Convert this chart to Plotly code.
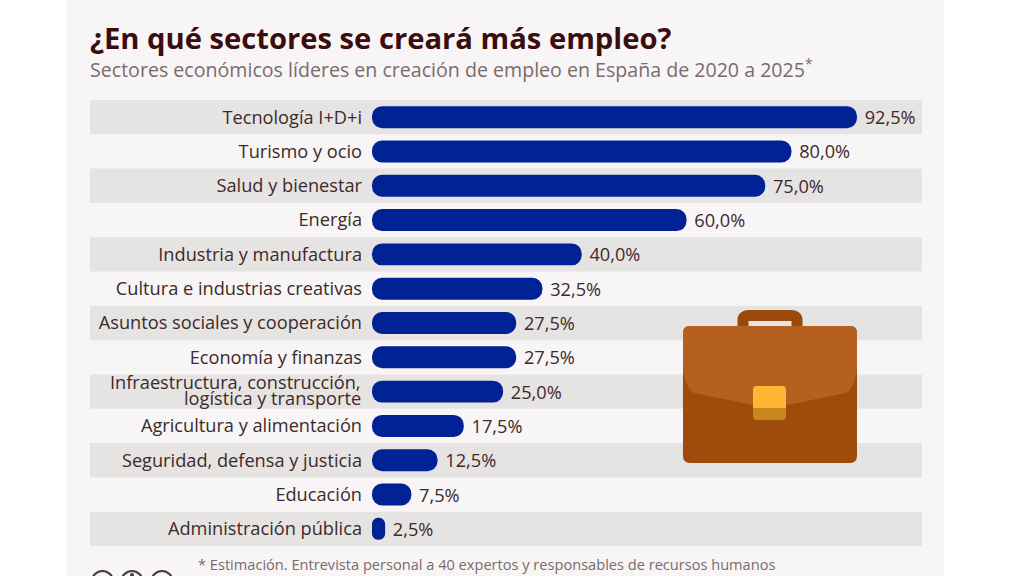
import plotly.graph_objects as go

W, H = 1024, 576

sectores = [
    "Tecnología I+D+i", "Turismo y ocio", "Salud y bienestar", "Energía",
    "Industria y manufactura", "Cultura e industrias creativas",
    "Asuntos sociales y cooperación", "Economía y finanzas",
    "Infraestructura, construcción, logística y transporte",
    "Agricultura y alimentación", "Seguridad, defensa y justicia",
    "Educación", "Administración pública",
]
valores = [92.5, 80.0, 75.0, 60.0, 40.0, 32.5, 27.5, 27.5, 25.0, 17.5, 12.5, 7.5, 2.5]
etiquetas = ["\u00a0" + f"{v:.1f}%".replace(".", ",") for v in valores]

# esta categoria va en dos lineas muy juntas, el eje no permite ese interlineado
SECTOR_DOBLE = sectores[8]
LINEAS_DOBLE = ["Infraestructura, construcción,", "logística y transporte"]

TITULO = "¿En qué sectores se creará más empleo?"
SUBTITULO = "Sectores económicos líderes en creación de empleo en España de 2020 a 2025<sup>*</sup>"
NOTA = "* Estimación. Entrevista personal a 40 expertos y responsables de recursos humanos"

FUENTE = "Open Sans"
TEXTO = "#3d2a2a"


def px(x):
    return x / W


def py(y):
    return 1 - y / H


def ruta(puntos):
    # puntos en pixeles de la imagen, pasados a coordenadas de papel
    partes = []
    for p in puntos:
        if isinstance(p, str):
            partes.append(p)
        else:
            partes.append(f"{px(p[0]):.5f},{py(p[1]):.5f}")
    return " ".join(partes)


def caja(x0, y0, x1, y1, r):
    return ruta([
        "M", (x0 + r, y0), "L", (x1 - r, y0), "Q", (x1, y0), (x1, y0 + r),
        "L", (x1, y1 - r), "Q", (x1, y1), (x1 - r, y1),
        "L", (x0 + r, y1), "Q", (x0, y1), (x0, y1 - r),
        "L", (x0, y0 + r), "Q", (x0, y0), (x0 + r, y0), "Z",
    ])


shapes = [dict(type="rect", xref="paper", yref="paper", x0=px(66), x1=px(944),
               y0=0, y1=1, fillcolor="#f7f5f6", line_width=0, layer="below")]

# franjas alternas detras de las barras
for i in range(0, len(sectores), 2):
    shapes.append(dict(type="rect", xref="paper", yref="y", x0=px(90), x1=px(922),
                       y0=i - 0.5, y1=i + 0.5, fillcolor="#e6e3e3",
                       line_width=0, layer="below"))

# maletin
asa = ruta(["M", (743, 327), "L", (743, 320), "Q", (743, 315.5), (749, 315.5),
            "L", (791, 315.5), "Q", (797, 315.5), (797, 320), "L", (797, 327)])
solapa = ruta(["M", (690, 326), "L", (850, 326), "Q", (857, 326), (857, 333),
               "L", (857, 367), "Q", (855, 388), (846, 393), "L", (772, 408),
               "L", (768, 408), "L", (694, 393), "Q", (685, 388), (683, 367),
               "L", (683, 333), "Q", (683, 326), (690, 326), "Z"])
for path, fill, line in [
    (asa, "rgba(0,0,0,0)", dict(color="#9c4a0c", width=11)),
    (caja(683, 326, 857, 463, 7), "#9e4b0b", dict(width=0)),
    (solapa, "#b5601e", dict(width=0)),
    (caja(753, 386, 786, 420, 4), "#c8861c", dict(width=0)),
    (ruta(["M", (757, 386), "L", (782, 386), "Q", (786, 386), (786, 390),
           "L", (786, 408), "L", (753, 408), "L", (753, 390), "Q", (753, 386), (757, 386), "Z"]),
     "#fdb735", dict(width=0)),
]:
    shapes.append(dict(type="path", xref="paper", yref="paper", path=path,
                       fillcolor=fill, line=line, layer="above"))

# iconos de licencia, cortados por el borde inferior
for cx in [102.5, 132, 162]:
    shapes.append(dict(type="circle", xref="paper", yref="paper",
                       x0=px(cx - 10.5), x1=px(cx + 10.5), y0=py(592), y1=py(571),
                       fillcolor="rgba(0,0,0,0)", line=dict(color="#4a3a3a", width=2.2)))
shapes.append(dict(type="circle", xref="paper", yref="paper", x0=px(130), x1=px(134),
                   y0=py(577), y1=py(573), fillcolor="#4a3a3a", line_width=0))

# con base explicita plotly redondea los dos extremos de la barra
fig = go.Figure(go.Bar(
    x=valores, y=sectores, base=[0] * len(valores), orientation="h",
    marker=dict(color="#012294", line_width=0, cornerradius=11), width=0.64,
    text=etiquetas, textposition="outside", cliponaxis=False, constraintext="none",
    textfont=dict(family=FUENTE, size=18.2, color=TEXTO),
))

notas = [
    dict(text=f"<b>{TITULO}</b>", xref="paper", yref="paper", x=px(88), y=py(38),
         xanchor="left", yanchor="middle", showarrow=False,
         font=dict(family=FUENTE, size=29.2, color="#3b0d0f")),
    dict(text=SUBTITULO, xref="paper", yref="paper", x=px(88), y=py(69),
         xanchor="left", yanchor="middle", showarrow=False,
         font=dict(family=FUENTE, size=19.6, color="#7a6b6b")),
    dict(text=NOTA, xref="paper", yref="paper", x=px(196), y=py(564),
         xanchor="left", yanchor="middle", showarrow=False,
         font=dict(family=FUENTE, size=14.6, color="#7a6b6b")),
]
for linea, dy in zip(LINEAS_DOBLE, [-9.5, 6.5]):
    notas.append(dict(text=linea, xref="paper", yref="y", x=px(362), y=SECTOR_DOBLE, yshift=-dy,
                      xanchor="right", yanchor="middle", showarrow=False, borderpad=0,
                      font=dict(family=FUENTE, size=18.2, color=TEXTO)))

fig.update_layout(
    width=W, height=H, autosize=False, showlegend=False,
    paper_bgcolor="#ffffff", plot_bgcolor="rgba(0,0,0,0)",
    margin=dict(l=0, r=0, t=0, b=0),
    font=dict(family=FUENTE, color=TEXTO),
    shapes=shapes,
    annotations=notas,
)
fig.update_xaxes(domain=[px(372), px(922)], range=[0, 550 / 5.243], visible=False, fixedrange=True)
fig.update_yaxes(domain=[py(546), py(100)], autorange="reversed", showgrid=False, zeroline=False,
                 showline=False, ticks="", ticklabelstandoff=9,
                 tickfont=dict(family=FUENTE, size=18.2, color=TEXTO), tickmode="array",
                 tickvals=[s for s in sectores if s != SECTOR_DOBLE],
                 ticktext=[s for s in sectores if s != SECTOR_DOBLE])

fig.write_html("out.html", config=dict(displayModeBar=False),
               post_script="document.body.style.margin='0';")
